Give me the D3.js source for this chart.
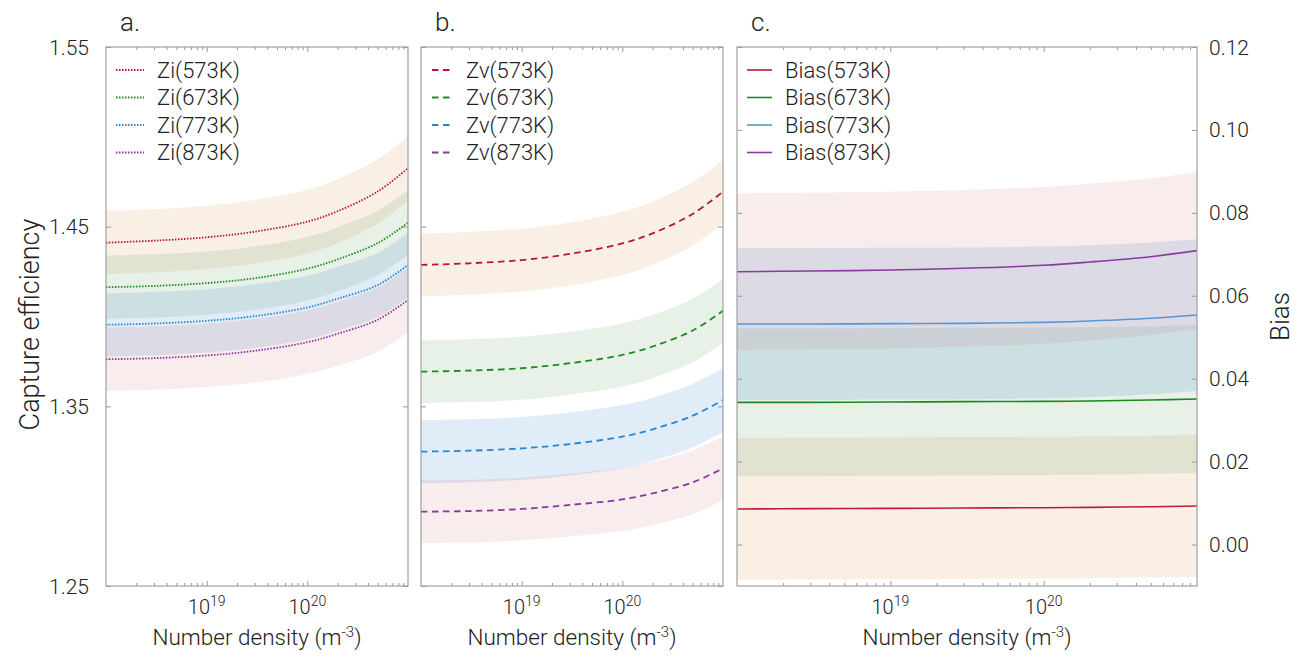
<!DOCTYPE html>
<html>
<head>
<meta charset="utf-8">
<script src="https://cdn.jsdelivr.net/npm/d3@7"></script>
<style>
body { margin: 0; background: #fff; }
text { font-family: Roboto, "Liberation Sans", sans-serif; font-weight: 300; fill: #222; }
</style>
</head>
<body>
<svg id="chart" width="1295" height="656"></svg>
<script>

// number density (m^-3) sample points
var nd = [1e18, 3e18, 1e19, 3e19, 1e20, 2e20, 5e20, 1e21];
var temps = ["573K", "673K", "773K", "873K"];

// a. interstitial capture efficiency
var ziMean = [
	[1.4411, 1.4422, 1.4441, 1.4472, 1.4528, 1.4586, 1.4696, 1.4825],
	[1.4163, 1.4170, 1.4186, 1.4213, 1.4266, 1.4318, 1.4409, 1.4522],
	[1.3954, 1.3961, 1.3976, 1.4002, 1.4050, 1.4099, 1.4175, 1.4287],
	[1.3762, 1.3768, 1.3783, 1.3809, 1.3857, 1.3904, 1.3982, 1.4092]
];
var ziErr = [0.0176, 0.0176, 0.0176, 0.0177, 0.0177, 0.0178, 0.0179, 0.0181];

// b. vacancy capture efficiency
var zvMean = [
	[1.4287, 1.4296, 1.4314, 1.4348, 1.4407, 1.4463, 1.4571, 1.4695],
	[1.3693, 1.3699, 1.3712, 1.3740, 1.3786, 1.3833, 1.3922, 1.4032],
	[1.3248, 1.3253, 1.3266, 1.3290, 1.3331, 1.3372, 1.3448, 1.3535],
	[1.2914, 1.2917, 1.2929, 1.2951, 1.2982, 1.3016, 1.3077, 1.3155]
];
var zvErr = [0.0175, 0.0175, 0.0175, 0.0175, 0.0176, 0.0176, 0.0177, 0.0178];

// c. bias
var biasMean = [
	[0.00857, 0.00865, 0.00873, 0.00881, 0.00889, 0.00897, 0.00913, 0.00929],
	[0.03430, 0.03430, 0.03438, 0.03446, 0.03454, 0.03462, 0.03486, 0.03510],
	[0.05319, 0.05319, 0.05327, 0.05335, 0.05359, 0.05391, 0.05456, 0.05536],
	[0.06581, 0.06597, 0.06621, 0.06662, 0.06735, 0.06814, 0.06943, 0.07088]
];
var biasErr = [0.0171, 0.0178, 0.0183, 0.0189];

var capTicks = [1.25, 1.35, 1.45, 1.55];
var biasTicks = [0.00, 0.02, 0.04, 0.06, 0.08, 0.10, 0.12];
var xMajor = [1e19, 1e20];
var xLabels = ["19", "20"];

var lineColors = ["#b5173a", "#1e8c1e", "#2b86d0", "#8b35a0"];
var biasColors = ["#c01a3a", "#1a8a1a", "#5596d4", "#8a3aa0"];
var bandColors = ["#cd7a26", "#2f822f", "#237ad0", "#b94141"];
var bandOpacity = [0.12, 0.11, 0.14, 0.10];

var plotTop = 47, plotBottom = 586;
var svg = d3.select("#chart");

var yCap = d3.scaleLinear().domain([1.25, 1.55]).range([plotBottom, plotTop]);
var yBias = d3.scaleLinear().domain([-0.01, 0.12]).range([plotBottom, plotTop]);

var minor = [];
[1e18, 1e19, 1e20].forEach(function(d) {
	for (var k = 2; k <= 9; k++) minor.push(k * d);
});

var panels = [
	{ label: "a.", x0: 106, x1: 408, y: yCap, ticks: capTicks, mean: ziMean, err: function(i, j) { return ziErr[j]; },
	  prefix: "Zi", dash: "1.5,1.5", width: 1.8, colors: lineColors, legX: 116, legLen: 28 },
	{ label: "b.", x0: 421, x1: 723, y: yCap, ticks: capTicks, mean: zvMean, err: function(i, j) { return zvErr[j]; },
	  prefix: "Zv", dash: "6.5,4.5", width: 1.8, colors: lineColors, legX: 432, legLen: 21 },
	{ label: "c.", x0: 737, x1: 1197, y: yBias, ticks: biasTicks, mean: biasMean, err: function(i, j) { return biasErr[i]; },
	  prefix: "Bias", dash: null, width: 1.6, colors: biasColors, legX: 747, legLen: 25 }
];

var curve = d3.curveCatmullRom.alpha(0.5);

panels.forEach(function(p, pi) {
	var x = d3.scaleLog().domain([1e18, 1e21]).range([p.x0, p.x1]);
	var y = p.y;
	var g = svg.append("g");

	var clipId = "clip" + pi;
	svg.append("clipPath").attr("id", clipId)
		.append("rect").attr("x", p.x0).attr("y", plotTop)
		.attr("width", p.x1 - p.x0).attr("height", plotBottom - plotTop);

	var plot = g.append("g").attr("clip-path", "url(#" + clipId + ")");

	// uncertainty bands
	p.mean.forEach(function(series, i) {
		var area = d3.area()
			.x(function(d, j) { return x(nd[j]); })
			.y0(function(d, j) { return y(d - p.err(i, j)); })
			.y1(function(d, j) { return y(d + p.err(i, j)); })
			.curve(curve);
		plot.append("path")
			.attr("d", area(series))
			.attr("fill", bandColors[i])
			.attr("fill-opacity", bandOpacity[i]);
	});

	// mean lines
	p.mean.forEach(function(series, i) {
		var line = d3.line()
			.x(function(d, j) { return x(nd[j]); })
			.y(function(d) { return y(d); })
			.curve(curve);
		plot.append("path")
			.attr("d", line(series))
			.attr("fill", "none")
			.attr("stroke", p.colors[i])
			.attr("stroke-width", p.width)
			.attr("stroke-dasharray", p.dash);
	});

	// ticks, all pointing inward
	function clean(sel) { sel.select(".domain").remove(); sel.attr("color", "#999"); }
	g.append("g").attr("transform", "translate(0," + plotBottom + ")")
		.call(d3.axisBottom(x).tickValues(minor).tickSize(-3).tickFormat("")).call(clean);
	g.append("g").attr("transform", "translate(0," + plotBottom + ")")
		.call(d3.axisBottom(x).tickValues(xMajor).tickSize(-5).tickFormat("")).call(clean);
	g.append("g").attr("transform", "translate(0," + plotTop + ")")
		.call(d3.axisTop(x).tickValues(minor).tickSize(-3).tickFormat("")).call(clean);
	g.append("g").attr("transform", "translate(0," + plotTop + ")")
		.call(d3.axisTop(x).tickValues(xMajor).tickSize(-5).tickFormat("")).call(clean);
	g.append("g").attr("transform", "translate(" + p.x0 + ",0)")
		.call(d3.axisLeft(y).tickValues(p.ticks).tickSize(-5).tickFormat("")).call(clean);
	g.append("g").attr("transform", "translate(" + p.x1 + ",0)")
		.call(d3.axisRight(y).tickValues(p.ticks).tickSize(-5).tickFormat("")).call(clean);

	g.append("rect")
		.attr("x", p.x0).attr("y", plotTop)
		.attr("width", p.x1 - p.x0).attr("height", plotBottom - plotTop)
		.attr("fill", "none").attr("stroke", "#a0a0a0").attr("stroke-width", 1.2);

	// x tick labels
	xMajor.forEach(function(v, k) {
		var t = g.append("text")
			.attr("x", x(v)).attr("y", 614)
			.attr("text-anchor", "middle")
			.attr("font-size", "20px");
		t.append("tspan").text("10");
		t.append("tspan").attr("dy", -8).attr("font-size", "14px").text(xLabels[k]);
	});

	// x axis title
	var xt = g.append("text")
		.attr("x", (p.x0 + p.x1) / 2).attr("y", 645)
		.attr("text-anchor", "middle")
		.attr("font-size", "22.5px");
	xt.append("tspan").text("Number density (m");
	xt.append("tspan").attr("dy", -8).attr("font-size", "15px").text("-3");
	xt.append("tspan").attr("dy", 8).text(")");

	// panel letter
	g.append("text")
		.attr("x", p.x0 + 14).attr("y", 31)
		.attr("font-size", "26px")
		.text(p.label);

	// legend
	temps.forEach(function(t, i) {
		var ly = 70 + i * 27.5;
		g.append("line")
			.attr("x1", p.legX).attr("x2", p.legX + p.legLen)
			.attr("y1", ly).attr("y2", ly)
			.attr("stroke", p.colors[i])
			.attr("stroke-width", p.width)
			.attr("stroke-dasharray", p.dash);
		g.append("text")
			.attr("x", p.legX + p.legLen + 13).attr("y", ly + 7.5)
			.attr("font-size", "22px")
			.text(p.prefix + "(" + t + ")");
	});
});

// y tick labels
capTicks.forEach(function(v) {
	svg.append("text")
		.attr("x", 89).attr("y", yCap(v) + 7.5)
		.attr("text-anchor", "end")
		.attr("font-size", "21px")
		.text(d3.format(".2f")(v));
});
biasTicks.forEach(function(v) {
	svg.append("text")
		.attr("x", 1209).attr("y", yBias(v) + 7.5)
		.attr("font-size", "21px")
		.text(d3.format(".2f")(v));
});

svg.append("text")
	.attr("transform", "translate(39," + ((plotTop + plotBottom) / 2 + 8) + ") rotate(-90)")
	.attr("text-anchor", "middle")
	.attr("font-size", "27px")
	.text("Capture efficiency");

svg.append("text")
	.attr("transform", "translate(1289," + ((plotTop + plotBottom) / 2) + ") rotate(-90)")
	.attr("text-anchor", "middle")
	.attr("font-size", "26px")
	.text("Bias");

</script>
</body>
</html>
